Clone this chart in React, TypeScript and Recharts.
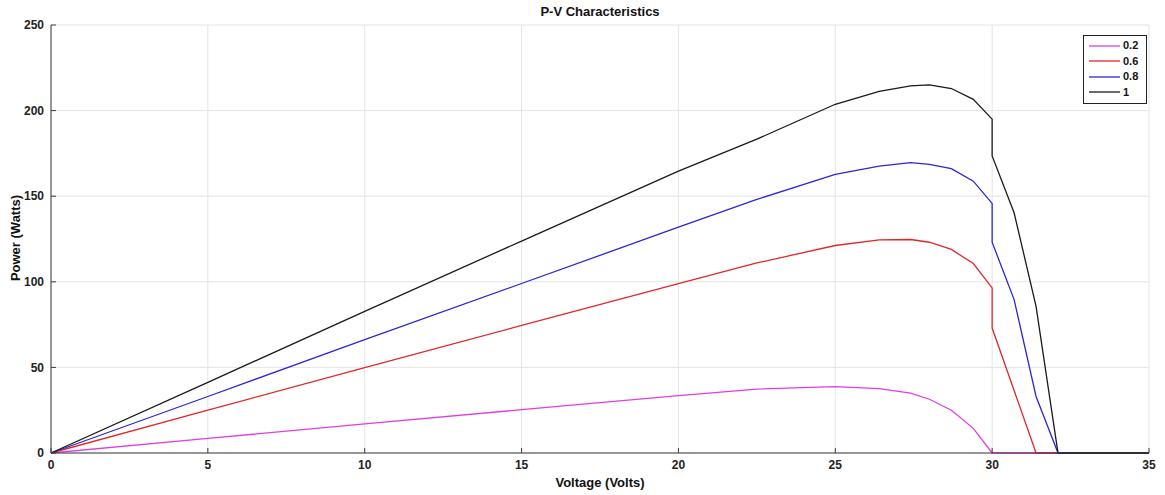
import { CartesianGrid, Line, LineChart, XAxis, YAxis } from "recharts";

const voltage = [0, 5, 10, 15, 20, 22.5, 25, 26.4, 27.4, 28, 28.7, 29.4, 30, 30, 30.7, 31.4, 32.1, 35];
const power02 = [0, 8.5, 17, 25.3, 33.5, 37.3, 38.8, 37.6, 35, 31.4, 25, 14.4, 0, 0, 0, 0, 0, 0];
const power06 = [0, 25, 49.9, 74.5, 98.9, 111, 121.2, 124.5, 124.7, 123.1, 118.9, 110.7, 96.4, 73, 36.5, 0, 0, 0];
const power08 = [0, 33, 66.2, 99, 131.9, 148.1, 162.8, 167.6, 169.6, 168.6, 166.1, 158.8, 145.8, 123.1, 89.6, 33, 0, 0];
const power10 = [0, 41.3, 82.7, 123.8, 164.7, 183.3, 203.7, 211.2, 214.5, 215, 212.9, 206.6, 195, 173.5, 140.3, 85.7, 0, 0];

const xTicks = [0, 5, 10, 15, 20, 25, 30, 35];
const yTicks = [0, 50, 100, 150, 200, 250];

const series = [
  { key: "p02", name: "0.2", color: "#e03ee0" },
  { key: "p06", name: "0.6", color: "#e02828" },
  { key: "p08", name: "0.8", color: "#2828d4" },
  { key: "p10", name: "1", color: "#1a1a1a" },
];

const data = voltage.map((v, i) => ({
  v,
  p02: power02[i],
  p06: power06[i],
  p08: power08[i],
  p10: power10[i],
}));

const font = "Arial, 'Liberation Sans', sans-serif";
const axisColor = "#3c3c3c";

function LegendBox() {
  return (
    <div
      style={{
        position: "absolute",
        left: 1083,
        top: 35,
        width: 64,
        boxSizing: "border-box",
        border: "1px solid #222",
        background: "#fff",
        padding: "2px 4px 3px 5px",
        fontFamily: font,
        fontWeight: "bold",
        fontSize: 11,
        lineHeight: "15.5px",
        zIndex: 2,
      }}
    >
      {series.map((s) => (
        <div key={s.key} style={{ display: "flex", alignItems: "center" }}>
          <svg width={31} height={4} style={{ marginRight: 3 }}>
            <line x1={0} y1={2} x2={31} y2={2} stroke={s.color} strokeWidth={1.3} />
          </svg>
          <span style={{ color: "#111" }}>{s.name}</span>
        </div>
      ))}
    </div>
  );
}

export default function App() {
  return (
    <div style={{ position: "absolute", left: 0, top: 0, width: 1165, height: 495, background: "#fff", fontFamily: font }}>
      <div
        style={{
          position: "absolute",
          top: 4,
          left: 51,
          width: 1098,
          textAlign: "center",
          fontWeight: "bold",
          fontSize: 13,
          color: "#111",
        }}
      >
        P-V Characteristics
      </div>
      <div
        style={{
          position: "absolute",
          left: 15,
          top: 238,
          transform: "translate(-50%, -50%) rotate(-90deg)",
          whiteSpace: "nowrap",
          fontWeight: "bold",
          fontSize: 13,
          color: "#111",
        }}
      >
        Power (Watts)
      </div>
      <div
        style={{
          position: "absolute",
          top: 475,
          left: 51,
          width: 1098,
          textAlign: "center",
          fontWeight: "bold",
          fontSize: 13,
          color: "#111",
        }}
      >
        Voltage (Volts)
      </div>
      <LineChart width={1165} height={495} data={data} margin={{ top: 25, right: 16, bottom: 0, left: 0 }}>
        <CartesianGrid stroke="#e4e4e4" strokeWidth={1} />
        <XAxis
          dataKey="v"
          type="number"
          domain={[0, 35]}
          ticks={xTicks}
          height={42}
          tickSize={-5}
          tickMargin={12}
          axisLine={{ stroke: axisColor }}
          tickLine={{ stroke: axisColor }}
          tick={{ fill: "#222", fontSize: 12, fontWeight: "bold", fontFamily: font }}
          interval={0}
        />
        <XAxis
          xAxisId="top"
          orientation="top"
          dataKey="v"
          type="number"
          domain={[0, 35]}
          ticks={xTicks}
          height={0}
          tickSize={-5}
          axisLine={{ stroke: axisColor }}
          tickLine={{ stroke: axisColor }}
          tick={false}
        />
        <YAxis
          type="number"
          domain={[0, 250]}
          ticks={yTicks}
          width={51}
          tickSize={-5}
          tickMargin={12}
          axisLine={{ stroke: axisColor }}
          tickLine={{ stroke: axisColor }}
          tick={{ fill: "#222", fontSize: 12, fontWeight: "bold", fontFamily: font }}
          interval={0}
        />
        <YAxis
          yAxisId="right"
          orientation="right"
          type="number"
          domain={[0, 250]}
          ticks={yTicks}
          width={0}
          tickSize={-5}
          axisLine={{ stroke: axisColor }}
          tickLine={{ stroke: axisColor }}
          tick={false}
        />
        {series.map((s) => (
          <Line
            key={s.key}
            type="linear"
            dataKey={s.key}
            name={s.name}
            stroke={s.color}
            strokeWidth={1.3}
            dot={false}
            activeDot={false}
            isAnimationActive={false}
          />
        ))}
      </LineChart>
      <LegendBox />
    </div>
  );
}
